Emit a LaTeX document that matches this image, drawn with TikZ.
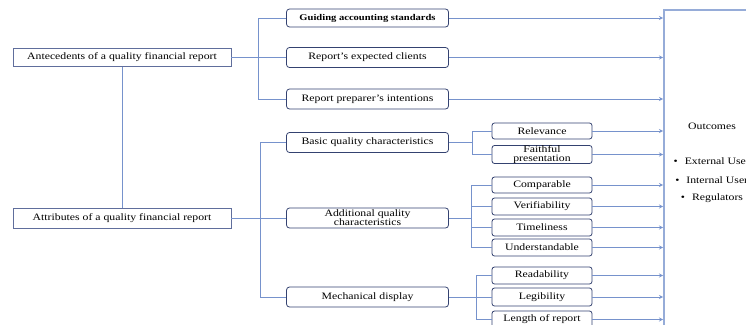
\documentclass[tikz,border=0pt]{standalone}
\usepackage{fontspec}
\setmainfont{Liberation Serif}[FakeStretch=1.2]
\definecolor{boxline}{RGB}{52,66,112}
\definecolor{leftline}{RGB}{96,110,156}
\definecolor{linkline}{RGB}{118,146,204}
\definecolor{outline}{RGB}{150,172,216}

\begin{document}
\begin{tikzpicture}[x=1pt,y=-1pt,
    every node/.style={font=\fontsize{9.8}{9}\selectfont,inner sep=0pt,align=center},
    leftbox/.style={draw=leftline,line width=0.9pt,minimum width=218pt,minimum height=18pt},
    midbox/.style={draw=boxline,line width=0.8pt,rounded corners=3pt,minimum width=162pt,minimum height=19pt},
    smallbox/.style={draw=boxline,line width=0.8pt,rounded corners=2.5pt,minimum width=100pt,minimum height=17pt},
    link/.style={draw=linkline,line width=0.8pt},
    tolink/.style={link,-stealth}]
  \useasboundingbox (0,0) rectangle (746,324);
  \clip (0,0) rectangle (746,324);

  \node[leftbox] (ante) at (122,57.5) {Antecedents of a quality financial report};
  \node[leftbox,minimum height=20pt] (attr) at (122,218) {Attributes of a quality financial report};

  \node[midbox,minimum height=18pt,font=\fontsize{8.8}{9}\selectfont\bfseries] (guide) at (367.5,18) {Guiding accounting standards};
  \node[midbox,minimum height=20pt] (client) at (367.5,57.5) {Report's expected clients};
  \node[midbox,minimum height=20pt] (intent) at (367.5,99) {Report preparer's intentions};
  \node[midbox,minimum height=20pt] (basic) at (367.5,142.5) {Basic quality characteristics};
  \node[midbox,minimum height=20pt] (addit) at (367.5,218) {Additional quality\\characteristics};
  \node[midbox,minimum height=20pt] (mech) at (367.5,297) {Mechanical display};

  \node[smallbox,minimum height=16pt] (rel) at (542,131) {Relevance};
  \node[smallbox] (faith) at (542,154.5) {Faithful\\presentation};
  \node[smallbox,minimum height=16pt] (comp) at (542,185) {Comparable};
  \node[smallbox] (verif) at (542,206.5) {Verifiability};
  \node[smallbox] (time) at (542,227.5) {Timeliness};
  \node[smallbox] (under) at (542,247.5) {Understandable};
  \node[smallbox] (read) at (542,275.5) {Readability};
  \node[smallbox,minimum height=18pt] (legib) at (542,297) {Legibility};
  \node[smallbox] (length) at (542,319.5) {Length of report};

  \node[draw=outline,line width=1.6pt,minimum width=160pt,minimum height=400pt,anchor=north west] (outcomes) at (663,9) {};
  \node (outtitle) at (712,126) {Outcomes};
  \node (extuser) at (714,161) {•\hspace{7pt}External Users};
  \node (intuser) at (714,180) {•\hspace{7pt}Internal Users};
  \node (regul) at (712,198.5) {•\hspace{7pt}Regulators};

  \coordinate (ja) at (258,0);
  \coordinate (jb) at (260,0);
  \coordinate (jc) at (472,0);
  \coordinate (jd) at (471,0);
  \coordinate (je) at (476,0);

  \draw[link] (ante.south) -- (attr.north);
  \draw[link] (ante.east) -- (client.west);
  \draw[link] (guide.west) -- (guide.west -| ja) -- (intent.west -| ja) -- (intent.west);

  \draw[link] (attr.east) -- (addit.west);
  \draw[link] (basic.west) -- (basic.west -| jb) -- (mech.west -| jb) -- (mech.west);

  \draw[link] (basic.east) -- (basic.east -| jc);
  \draw[link] (rel.west) -- (rel.west -| jc) -- (faith.west -| jc) -- (faith.west);

  \draw[link] (addit.east) -- (addit.east -| jd);
  \draw[link] (comp.west) -- (comp.west -| jd) -- (under.west -| jd) -- (under.west);
  \draw[link] (verif.west -| jd) -- (verif.west);
  \draw[link] (time.west -| jd) -- (time.west);

  \draw[link] (mech.east) -- (legib.west);
  \draw[link] (read.west) -- (read.west -| je) -- (length.west -| je) -- (length.west);

  \draw[tolink] (guide.east) -- (guide.east -| outcomes.west);
  \draw[tolink] (client.east) -- (client.east -| outcomes.west);
  \draw[tolink] (intent.east) -- (intent.east -| outcomes.west);
  \draw[tolink] (rel.east) -- (rel.east -| outcomes.west);
  \draw[tolink] (faith.east) -- (faith.east -| outcomes.west);
  \draw[tolink] (comp.east) -- (comp.east -| outcomes.west);
  \draw[tolink] (verif.east) -- (verif.east -| outcomes.west);
  \draw[tolink] (time.east) -- (time.east -| outcomes.west);
  \draw[tolink] (under.east) -- (under.east -| outcomes.west);
  \draw[tolink] (read.east) -- (read.east -| outcomes.west);
  \draw[tolink] (legib.east) -- (legib.east -| outcomes.west);
  \draw[tolink] (length.east) -- (length.east -| outcomes.west);
\end{tikzpicture}
\end{document}
